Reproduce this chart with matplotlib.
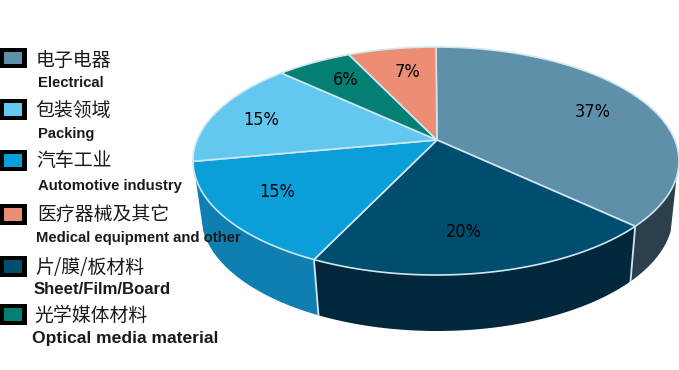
import numpy as np
import matplotlib
matplotlib.use('Agg')
import matplotlib.pyplot as plt
from matplotlib.patches import Polygon, Rectangle

# slices, clockwise from the top of the pie
SHARES = [37, 20, 15, 15, 6, 7]
PCT_LABELS = ["37%", "20%", "15%", "15%", "6%", "7%"]
TOP_COLORS = ["#5F90AA", "#004E6F", "#0A9FD9", "#63C8F0", "#037F73", "#EC8E74"]

# legend rows, top to bottom
NAMES_CN = ["电子电器", "包装领域", "汽车工业", "医疗器械及其它", "片/膜/板材料", "光学媒体材料"]
NAMES_EN = ["Electrical", "Packing", "Automotive industry",
            "Medical equipment and other", "Sheet/Film/Board", "Optical media material"]
LEGEND_COLORS = ["#5F90AA", "#63C8F0", "#0A9FD9", "#EC8E74", "#004E6F", "#037F73"]

# layout in pixels
PCT_POS = [(593, 112), (464, 232), (277, 192), (261, 120), (346, 80), (408, 72)]
SWATCH_Y = [(48, 68), (99, 120), (150, 171), (204, 225), (256, 277), (304, 325)]
CN_POS = [(36, 60), (35, 110), (36, 161), (37, 215), (35, 267), (34, 315)]
EN_POS = [(38, 83), (38, 134), (38, 186), (36, 238), (34, 290), (32, 339)]
EN_SIZE = [10.7, 10.6, 10.7, 10.7, 12.1, 12.6]

TOP = (436, 161, 243, 114)     # ellipse cx, cy, rx, ry
BOTTOM = (437, 215, 236, 116)
APEX = (437, 140)
SQUEEZE = 0.83  # pie is seen in perspective, far side is compressed


def ell_param(share_cum):
    """cumulative share (%) -> angle on the ellipse, in radians from the top."""
    phi = np.asarray(share_cum, dtype=float) / 100 * 2 * np.pi
    return 2 * np.unwrap(np.arctan2(SQUEEZE * np.sin(phi / 2), np.cos(phi / 2)))


def ell_xy(t, e):
    return np.column_stack([e[0] + e[2] * np.sin(t), e[1] - e[3] * np.cos(t)])


fig = plt.figure(figsize=(6.79, 3.70), dpi=100)
ax = fig.add_axes([0, 0, 1, 1])
ax.set_xlim(0, 679)
ax.set_ylim(370, 0)
ax.axis("off")

cum = np.concatenate([[0], np.cumsum(SHARES)])
EDGE = "#CFE6F0"

# side wall, only the front slices show it
t_a, t_b = ell_param([cum[1], cum[2]])
t_c = np.radians(262)
t_right = np.radians(98)
for t0, t1, col in [(t_right, t_a, "#2B3F4C"), (t_a, t_b, "#03283C"), (t_b, t_c, "#0E7FB0")]:
    ts = np.linspace(t0, t1, 80)
    pts = np.vstack([ell_xy(ts, TOP), ell_xy(ts[::-1], BOTTOM)])
    ax.add_patch(Polygon(pts, closed=True, facecolor=col, edgecolor="none", zorder=1))
for t in (t_a, t_b):
    p = np.vstack([ell_xy(np.array([t]), TOP), ell_xy(np.array([t]), BOTTOM)])
    ax.plot(p[:, 0], p[:, 1], color=EDGE, lw=1.3, zorder=2)

# top face
for i, col in enumerate(TOP_COLORS):
    ts = ell_param(np.linspace(cum[i], cum[i + 1], 80))
    pts = np.vstack([[APEX], ell_xy(ts, TOP)])
    ax.add_patch(Polygon(pts, closed=True, facecolor=col, edgecolor=EDGE, lw=1.2,
                         joinstyle="round", zorder=3))

for (x, y), s in zip(PCT_POS, PCT_LABELS):
    ax.text(x, y, s, ha="center", va="center", fontsize=13, color="black",
            family="DejaVu Sans", stretch="condensed", zorder=5)

# legend
for (y0, y1), col in zip(SWATCH_Y, LEGEND_COLORS):
    ax.add_patch(Rectangle((0, y0), 27, y1 - y0, facecolor="black", edgecolor="none", zorder=4))
    ax.add_patch(Rectangle((4, y0 + 4), 18, y1 - y0 - 8, facecolor=col, edgecolor="none", zorder=4))
for (x, y), s in zip(CN_POS, NAMES_CN):
    ax.text(x, y, s, ha="left", va="center", fontsize=13.6, color="#1A1A1A",
            family=["Noto Sans CJK SC", "DejaVu Sans"], zorder=6)
for (x, y), s, fs in zip(EN_POS, NAMES_EN, EN_SIZE):
    ax.text(x, y, s, ha="left", va="center", fontsize=fs, color="#1A1A1A",
            family="Liberation Sans", fontweight="bold", zorder=6)

plt.savefig("out.png", dpi=100)
plt.close()
